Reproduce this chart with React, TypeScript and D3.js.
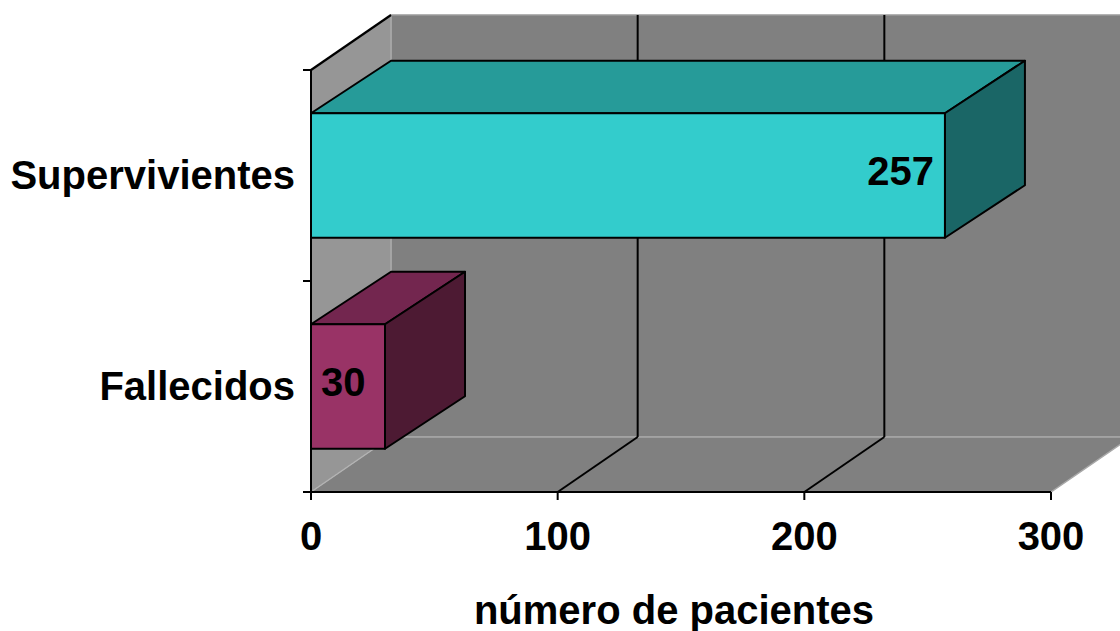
import React from "react";
import * as d3 from "d3";

// Patient outcome counts
const categories: string[] = ["Supervivientes", "Fallecidos"];
const values: number[] = [257, 30];
const xTicks: number[] = [0, 100, 200, 300];
const axisTitle = "número de pacientes";

const faceColors = [
  { front: "#33CCCC", top: "#269B99", side: "#1A6666" },
  { front: "#993366", top: "#73264F", side: "#4D1A33" },
];

const W = 1120;
const H = 631;
const FONT = "Arial, 'Liberation Sans', Helvetica, sans-serif";
const FS = 40;

export default function App() {
  const x = d3.scaleLinear().domain([0, 300]).range([311, 1051]);
  const y = d3
    .scaleBand<string>()
    .domain(categories)
    .range([70, 492])
    .paddingInner(0.41)
    .paddingOuter(0.205);

  // oblique projection offsets
  const wdx = 80;
  const wdy = -55;
  const bdx = 80;
  const bdy = -52.5;

  const x0 = x(0);
  const x1 = x(300);
  const yTop = 70;
  const yBot = 492;

  const pts = (p: [number, number][]) => p.map((q) => q.join(",")).join(" ");

  return (
    <svg
      width={W}
      height={H}
      style={{ position: "absolute", left: 0, top: 0, background: "#fff" }}
      fontFamily={FONT}
    >
      {/* back wall */}
      <polygon
        points={pts([
          [x0 + wdx, yTop + wdy],
          [x1 + wdx, yTop + wdy],
          [x1 + wdx, yBot + wdy],
          [x0 + wdx, yBot + wdy],
        ])}
        fill="#808080"
        stroke="#9a9a9a"
        strokeWidth={1.5}
      />
      {/* left wall */}
      <polygon
        points={pts([
          [x0, yTop],
          [x0 + wdx, yTop + wdy],
          [x0 + wdx, yBot + wdy],
          [x0, yBot],
        ])}
        fill="#969696"
        stroke="#b4b4b4"
        strokeWidth={1}
      />
      {/* floor */}
      <polygon
        points={pts([
          [x0, yBot],
          [x1, yBot],
          [x1 + wdx, yBot + wdy],
          [x0 + wdx, yBot + wdy],
        ])}
        fill="#808080"
        stroke="#a8a8a8"
        strokeWidth={1.5}
      />
      <line
        x1={x0 + 1.5}
        y1={yBot - 1}
        x2={x0 + wdx + 1.5}
        y2={yBot + wdy - 1}
        stroke="#b8b8b8"
        strokeWidth={0.8}
      />
      {/* left wall top edge */}
      <line x1={x0} y1={yTop} x2={x0 + wdx} y2={yTop + wdy} stroke="#000" strokeWidth={2.2} />

      {/* gridlines on back wall and floor */}
      {xTicks
        .filter((t) => t > 0 && t < 300)
        .map((t) => (
          <g key={`g${t}`} stroke="#000" strokeWidth={2} fill="none">
            <line x1={x(t) + wdx} y1={yTop + wdy} x2={x(t) + wdx} y2={yBot + wdy} />
            <line x1={x(t) + wdx} y1={yBot + wdy} x2={x(t)} y2={yBot} />
          </g>
        ))}

      {/* bars */}
      {categories.map((c, i) => {
        const v = values[i];
        const yb = y(c)!;
        const bh = y.bandwidth();
        const xe = x(v);
        const col = faceColors[i];
        return (
          <g key={c} stroke="#000" strokeWidth={2} strokeLinejoin="round">
            <polygon
              points={pts([
                [x0, yb],
                [x0 + bdx, yb + bdy],
                [xe + bdx, yb + bdy],
                [xe, yb],
              ])}
              fill={col.top}
            />
            <polygon
              points={pts([
                [xe, yb],
                [xe + bdx, yb + bdy],
                [xe + bdx, yb + bh + bdy],
                [xe, yb + bh],
              ])}
              fill={col.side}
            />
            <rect x={x0} y={yb} width={xe - x0} height={bh} fill={col.front} />
          </g>
        );
      })}

      {/* value labels */}
      {categories.map((c, i) => {
        const v = values[i];
        const cy = y(c)! + y.bandwidth() / 2;
        const narrow = x(v) - x0 < 100;
        return (
          <text
            key={`v${c}`}
            x={narrow ? x0 + 10 : x(v) - 11}
            y={cy + 9}
            textAnchor={narrow ? "start" : "end"}
            fontSize={FS}
            fontWeight="bold"
            fill="#000"
          >
            {v}
          </text>
        );
      })}

      {/* category axis */}
      <line x1={x0} y1={yTop} x2={x0} y2={yBot + 8} stroke="#000" strokeWidth={2} />
      {[yTop, (yTop + yBot) / 2, yBot].map((yy, i) => (
        <line key={`yt${i}`} x1={x0 - 8} y1={yy} x2={x0} y2={yy} stroke="#000" strokeWidth={2} />
      ))}
      {categories.map((c) => (
        <text
          key={`c${c}`}
          x={295}
          y={y(c)! + y.bandwidth() / 2 + 13}
          textAnchor="end"
          fontSize={FS}
          fontWeight="bold"
          fill="#000"
        >
          {c}
        </text>
      ))}

      {/* value axis */}
      <line x1={x0 - 8} y1={yBot} x2={x1} y2={yBot} stroke="#000" strokeWidth={2} />
      {xTicks.map((t) => (
        <g key={`xt${t}`}>
          <line x1={x(t)} y1={yBot} x2={x(t)} y2={yBot + 8} stroke="#000" strokeWidth={2} />
          <text
            x={x(t)}
            y={550}
            textAnchor="middle"
            fontSize={FS}
            fontWeight="bold"
            fill="#000"
          >
            {t}
          </text>
        </g>
      ))}
      <text x={674} y={624} textAnchor="middle" fontSize={FS} fontWeight="bold" fill="#000">
        {axisTitle}
      </text>
    </svg>
  );
}
